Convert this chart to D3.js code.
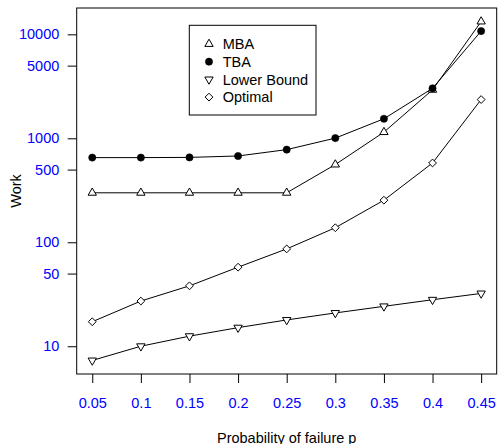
<!DOCTYPE html>
<html>
<head>
<meta charset="utf-8">
<script src="https://cdn.jsdelivr.net/npm/d3@7/dist/d3.min.js"></script>
<style>
  html, body { margin: 0; padding: 0; background: #fff; }
  svg { display: block; font-family: "Liberation Sans", Arial, Helvetica, sans-serif; }
</style>
</head>
<body>
<svg id="chart" width="498" height="444"></svg>
<script>
// ---- data ----
const probability = [0.05, 0.1, 0.15, 0.2, 0.25, 0.3, 0.35, 0.4, 0.45];
const mba        = [299, 299, 299, 299, 299, 559, 1146, 2925, 13270];
const tba        = [652, 652, 655, 676, 778, 1004, 1541, 3026, 10740];
const lowerBound = [7.3, 10.0, 12.5, 15.1, 17.9, 20.9, 24.2, 28.0, 32.2];
const optimal    = [17.2, 27.2, 38.1, 57.6, 86.3, 138, 254, 579, 2359];
const xTickLabels = ["0.05", "0.1", "0.15", "0.2", "0.25", "0.3", "0.35", "0.4", "0.45"];
const yTickValues = [10, 50, 100, 500, 1000, 5000, 10000];
const yTickLabels = ["10", "50", "100", "500", "1000", "5000", "10000"];
const seriesNames = ["MBA", "TBA", "Lower Bound", "Optimal"];

const series = [
  { name: seriesNames[0], values: mba, shape: "triUp" },
  { name: seriesNames[1], values: tba, shape: "dot" },
  { name: seriesNames[2], values: lowerBound, shape: "triDown" },
  { name: seriesNames[3], values: optimal, shape: "diamond" }
];

// ---- layout ----
const box = { left: 76.7, right: 496.7, top: 8, bottom: 374 };
const fontSize = 14.5;
const svg = d3.select("#chart");

// R-style 4% padding
const xExt = d3.extent(probability);
const xPad = (xExt[1] - xExt[0]) * 0.04;
const x = d3.scaleLinear().domain([xExt[0] - xPad, xExt[1] + xPad]).range([box.left, box.right]);

const allY = [].concat(mba, tba, lowerBound, optimal);
const lyExt = d3.extent(allY).map(Math.log10);
const lyPad = (lyExt[1] - lyExt[0]) * 0.04;
const y = d3.scaleLog()
  .domain([Math.pow(10, lyExt[0] - lyPad), Math.pow(10, lyExt[1] + lyPad)])
  .range([box.bottom, box.top]);

// ---- axes ----
const xAxis = d3.axisBottom(x)
  .tickValues(probability)
  .tickFormat((d, i) => xTickLabels[i])
  .tickSize(9).tickPadding(14.4);
const gx = svg.append("g").attr("transform", `translate(0,${box.bottom})`).call(xAxis);
gx.select(".domain").remove();

const yAxis = d3.axisLeft(y)
  .tickValues(yTickValues)
  .tickFormat((d, i) => yTickLabels[i])
  .tickSize(9).tickPadding(8.4);
const gy = svg.append("g").attr("transform", `translate(${box.left},0)`).call(yAxis);
gy.select(".domain").remove();

svg.selectAll(".tick line").attr("stroke", "#000");
svg.selectAll(".tick text")
  .attr("fill", "#0000ff")
  .style("font-size", fontSize + "px")
  .style("font-family", '"Liberation Sans", Arial, sans-serif');

// plot box
svg.append("rect")
  .attr("x", box.left).attr("y", box.top)
  .attr("width", box.right - box.left).attr("height", box.bottom - box.top)
  .attr("fill", "none").attr("stroke", "#000").attr("stroke-width", 1);

// axis titles
svg.append("text")
  .attr("x", (box.left + box.right) / 2).attr("y", 442.5)
  .attr("text-anchor", "middle")
  .style("font-size", fontSize + "px")
  .text("Probability of failure p");

svg.append("text")
  .attr("transform", `translate(20.7,${(box.top + box.bottom) / 2}) rotate(-90)`)
  .attr("text-anchor", "middle")
  .style("font-size", fontSize + "px")
  .text("Work");

// ---- markers ----
function drawMarker(g, shape, cx, cy) {
  const s = 3.1;
  if (shape === "dot") {
    g.append("circle").attr("cx", cx).attr("cy", cy).attr("r", 3.6)
      .attr("fill", "#000").attr("stroke", "#000").attr("stroke-width", 0.6);
  } else if (shape === "triUp") {
    const r = 1.5551 * s, xc = 1.3468 * s, yc = 0.7776 * s;
    g.append("path")
      .attr("d", `M${cx},${cy - r}L${cx + xc},${cy + yc}L${cx - xc},${cy + yc}Z`)
      .attr("fill", "#fff").attr("stroke", "#000").attr("stroke-width", 1);
  } else if (shape === "triDown") {
    const r = 1.5551 * s, xc = 1.3468 * s, yc = 0.7776 * s;
    g.append("path")
      .attr("d", `M${cx},${cy + r}L${cx + xc},${cy - yc}L${cx - xc},${cy - yc}Z`)
      .attr("fill", "#fff").attr("stroke", "#000").attr("stroke-width", 1);
  } else if (shape === "diamond") {
    const h = 3.9;
    g.append("path")
      .attr("d", `M${cx},${cy - h}L${cx + h},${cy}L${cx},${cy + h}L${cx - h},${cy}Z`)
      .attr("fill", "#fff").attr("stroke", "#000").attr("stroke-width", 1);
  }
}

// ---- lines + points ----
const line = d3.line().x((d, i) => x(probability[i])).y(d => y(d));
const gLines = svg.append("g");
const gPts = svg.append("g");
series.forEach(s => {
  gLines.append("path").datum(s.values)
    .attr("d", line).attr("fill", "none")
    .attr("stroke", "#000").attr("stroke-width", 1);
  s.values.forEach((v, i) => drawMarker(gPts, s.shape, x(probability[i]), y(v)));
});

// ---- legend ----
const lg = svg.append("g");
lg.append("rect")
  .attr("x", 189.3).attr("y", 25.3).attr("width", 316 - 189.3).attr("height", 115 - 25.3)
  .attr("fill", "#fff").attr("stroke", "#000").attr("stroke-width", 1);
series.forEach((s, i) => {
  const ly = 44 + i * 17.7;
  drawMarker(lg, s.shape, 209, ly);
  lg.append("text")
    .attr("x", 222.7).attr("y", ly).attr("dy", "0.36em")
    .style("font-size", fontSize + "px")
    .text(s.name);
});
</script>
</body>
</html>
